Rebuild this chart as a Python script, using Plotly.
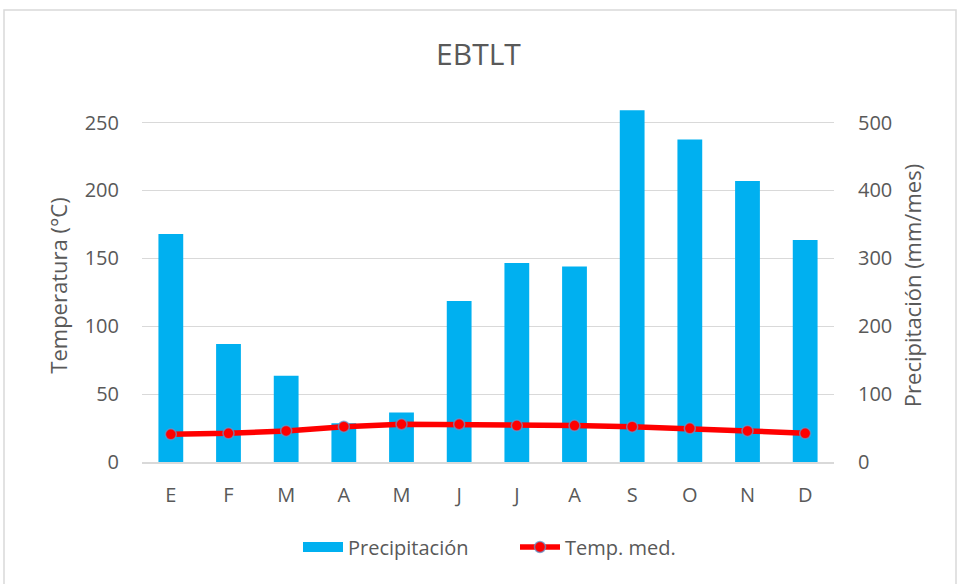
import plotly.graph_objects as go

meses = ["E", "F", "M", "A", "M", "J", "J", "A", "S", "O", "N", "D"]
precipitacion = [336, 174, 127, 57, 73, 237, 293, 288, 518, 475, 414, 327]
temperatura = [20.4, 21.1, 22.9, 26.0, 27.8, 27.8, 26.8, 26.8, 26.0, 24.8, 22.9, 21.1]
temp_ticks = [0, 50, 100, 150, 200, 250]
prec_ticks = [0, 100, 200, 300, 400, 500]

x = list(range(len(meses)))
grey = "#595959"
font = "Open Sans"
azul = "#00b0f0"

fig = go.Figure()
fig.add_trace(go.Bar(
    x=x, y=precipitacion, name="Precipitación",
    marker=dict(color=azul, line=dict(width=0)),
    yaxis="y", showlegend=False,
))
# legend entry drawn as a wide swatch
fig.add_trace(go.Scatter(
    x=[None], y=[None], name="Precipitación", mode="lines",
    line=dict(color=azul, width=14), yaxis="y", hoverinfo="skip",
))
fig.add_trace(go.Scatter(
    x=x, y=temperatura, name="Temp. med.", mode="lines+markers",
    line=dict(color="#ff0000", width=5.5),
    marker=dict(color="#ff0000", size=11, line=dict(color="rgba(91,155,213,0.7)", width=1.5)),
    yaxis="y2",
))

W, H = 957, 584
L, R, T, B = 142, 123, 109, 122
ph = H - T - B

def px(xp):
    return (xp - L) / (W - L - R)

def py(yp):
    return (H - B - yp) / ph

fig.update_layout(
    width=W, height=H,
    margin=dict(l=L, r=R, t=T, b=B, autoexpand=False),
    paper_bgcolor="white", plot_bgcolor="white",
    font=dict(family=font, color=grey, size=20),
    title=dict(text="EBTLT", x=0.5, xanchor="center", y=1 - 54 / H, yanchor="middle",
               font=dict(size=30, color=grey, family=font)),
    bargap=0.57,
    showlegend=True,
    legend=dict(orientation="h", x=px(298), xanchor="left", y=py(547), yanchor="middle",
                font=dict(size=20, color=grey), itemwidth=40,
                entrywidth=162, entrywidthmode="pixels"),
    xaxis=dict(
        tickmode="array", tickvals=x, ticktext=meses, range=[-0.5, 11.5],
        showgrid=False, showline=True, linecolor="#d9d9d9", linewidth=2,
        ticks="outside", ticklen=14, tickcolor="rgba(0,0,0,0)",
        tickfont=dict(size=20, color=grey), zeroline=False,
    ),
    yaxis=dict(
        side="right", range=[0, 520], tickmode="array", tickvals=prec_ticks,
        showgrid=True, gridcolor="#d9d9d9", gridwidth=1, zeroline=False,
        ticks="outside", ticklen=19, tickcolor="rgba(0,0,0,0)",
        tickfont=dict(size=20, color=grey),
        title=dict(text="Precipitación (mm/mes)", font=dict(size=22, color=grey), standoff=14),
    ),
    yaxis2=dict(
        side="left", overlaying="y", range=[0, 260], tickmode="array", tickvals=temp_ticks,
        showgrid=False, zeroline=False,
        ticks="outside", ticklen=18, tickcolor="rgba(0,0,0,0)",
        tickfont=dict(size=20, color=grey),
        title=dict(text="Temperatura (°C)", font=dict(size=22, color=grey), standoff=10),
    ),
    shapes=[dict(type="rect", xref="paper", yref="paper",
                 x0=px(4), x1=px(956), y0=py(592), y1=py(10),
                 line=dict(color="#d9d9d9", width=1.5), fillcolor="rgba(0,0,0,0)", layer="below")],
)

fig.write_html("out.html", config={"displayModeBar": False},
               post_script="document.body.style.margin='0';")
